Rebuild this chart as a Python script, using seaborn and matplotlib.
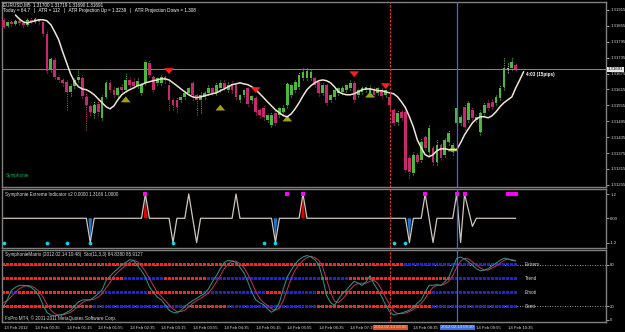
import numpy as np
import pandas as pd
import matplotlib
matplotlib.use("Agg")
import matplotlib.pyplot as plt
from matplotlib.patches import Polygon
import seaborn as sns

sns.set_style("dark")
plt.rcParams['font.family'] = ['Liberation Sans', 'DejaVu Sans']

# ---------------- data (EURUSD M5, 131 candles) ----------------
opens = [1.31878, 1.31855, 1.31870, 1.31863, 1.31874, 1.31866, 1.31859, 1.31878, 1.31870, 1.31881,
         1.31870, 1.31825, 1.31689, 1.31727, 1.31663, 1.31651, 1.31644, 1.31606, 1.31629, 1.31651,
         1.31659, 1.31587, 1.31553, 1.31527, 1.31561, 1.31508, 1.31587, 1.31640, 1.31614, 1.31595,
         1.31625, 1.31614, 1.31651, 1.31644, 1.31629, 1.31602, 1.31640, 1.31716, 1.31663, 1.31640,
         1.31640, 1.31663, 1.31633, 1.31576, 1.31576, 1.31576, 1.31587, 1.31602, 1.31640, 1.31595,
         1.31576, 1.31587, 1.31602, 1.31621, 1.31602, 1.31621, 1.31640, 1.31614, 1.31636, 1.31633,
         1.31576, 1.31595, 1.31621, 1.31576, 1.31584, 1.31538, 1.31546, 1.31501, 1.31482, 1.31527,
         1.31519, 1.31531, 1.31557, 1.31595, 1.31614, 1.31625, 1.31659, 1.31659, 1.31659, 1.31659,
         1.31644, 1.31602, 1.31633, 1.31576, 1.31587, 1.31602, 1.31606, 1.31614, 1.31621, 1.31640,
         1.31595, 1.31606, 1.31614, 1.31595, 1.31614, 1.31602, 1.31614, 1.31595, 1.31587, 1.31538,
         1.31493, 1.31531, 1.31531, 1.31357, 1.31301, 1.31369, 1.31350, 1.31437, 1.31380, 1.31395,
         1.31342, 1.31406, 1.31369, 1.31418, 1.31380, 1.31489, 1.31489, 1.31550, 1.31501, 1.31538,
         1.31501, 1.31455, 1.31527, 1.31565, 1.31568, 1.31565, 1.31584, 1.31625, 1.31693, 1.31697,
         1.31708]
closes = [1.31851, 1.31870, 1.31863, 1.31874, 1.31866, 1.31859, 1.31878, 1.31870, 1.31881, 1.31870,
          1.31825, 1.31685, 1.31731, 1.31663, 1.31651, 1.31640, 1.31606, 1.31629, 1.31651, 1.31663,
          1.31591, 1.31557, 1.31531, 1.31557, 1.31531, 1.31587, 1.31640, 1.31614, 1.31595, 1.31621,
          1.31614, 1.31651, 1.31633, 1.31629, 1.31648, 1.31633, 1.31719, 1.31670, 1.31614, 1.31659,
          1.31663, 1.31651, 1.31576, 1.31557, 1.31550, 1.31587, 1.31602, 1.31621, 1.31595, 1.31576,
          1.31595, 1.31602, 1.31621, 1.31602, 1.31633, 1.31640, 1.31621, 1.31633, 1.31614, 1.31587,
          1.31595, 1.31614, 1.31561, 1.31591, 1.31531, 1.31519, 1.31512, 1.31519, 1.31519, 1.31489,
          1.31546, 1.31546, 1.31636, 1.31633, 1.31644, 1.31670, 1.31682, 1.31685, 1.31682, 1.31633,
          1.31602, 1.31633, 1.31565, 1.31595, 1.31614, 1.31621, 1.31621, 1.31633, 1.31640, 1.31576,
          1.31614, 1.31621, 1.31625, 1.31621, 1.31595, 1.31621, 1.31591, 1.31614, 1.31557, 1.31489,
          1.31527, 1.31508, 1.31312, 1.31305, 1.31369, 1.31342, 1.31418, 1.31395, 1.31470, 1.31342,
          1.31406, 1.31357, 1.31425, 1.31452, 1.31406, 1.31546, 1.31512, 1.31474, 1.31565, 1.31508,
          1.31512, 1.31527, 1.31557, 1.31546, 1.31550, 1.31587, 1.31621, 1.31697, 1.31693, 1.31719,
          1.31691]
highs = [1.31885, 1.31878, 1.31881, 1.31881, 1.31881, 1.31874, 1.31885, 1.31889, 1.31889, 1.31885,
         1.31878, 1.31840, 1.31738, 1.31734, 1.31670, 1.31659, 1.31651, 1.31636, 1.31659, 1.31689,
         1.31670, 1.31606, 1.31561, 1.31576, 1.31576, 1.31595, 1.31651, 1.31651, 1.31625, 1.31629,
         1.31636, 1.31682, 1.31666, 1.31659, 1.31659, 1.31644, 1.31727, 1.31727, 1.31670, 1.31666,
         1.31670, 1.31670, 1.31651, 1.31584, 1.31587, 1.31595, 1.31610, 1.31629, 1.31651, 1.31602,
         1.31606, 1.31610, 1.31633, 1.31629, 1.31644, 1.31651, 1.31651, 1.31644, 1.31651, 1.31644,
         1.31602, 1.31621, 1.31629, 1.31599, 1.31591, 1.31546, 1.31553, 1.31527, 1.31531, 1.31538,
         1.31553, 1.31557, 1.31644, 1.31640, 1.31651, 1.31682, 1.31697, 1.31697, 1.31693, 1.31666,
         1.31651, 1.31640, 1.31640, 1.31602, 1.31621, 1.31629, 1.31629, 1.31640, 1.31651, 1.31651,
         1.31621, 1.31629, 1.31633, 1.31633, 1.31625, 1.31629, 1.31621, 1.31621, 1.31602, 1.31546,
         1.31538, 1.31538, 1.31538, 1.31369, 1.31380, 1.31380, 1.31433, 1.31444, 1.31482, 1.31406,
         1.31425, 1.31414, 1.31437, 1.31463, 1.31414, 1.31557, 1.31519, 1.31561, 1.31576, 1.31550,
         1.31519, 1.31538, 1.31568, 1.31576, 1.31580, 1.31595, 1.31633, 1.31738, 1.31716, 1.31738,
         1.31716]
lows = [1.31847, 1.31851, 1.31855, 1.31859, 1.31859, 1.31851, 1.31855, 1.31866, 1.31866, 1.31863,
        1.31817, 1.31678, 1.31682, 1.31655, 1.31644, 1.31629, 1.31538, 1.31591, 1.31621, 1.31644,
        1.31584, 1.31463, 1.31519, 1.31508, 1.31516, 1.31501, 1.31584, 1.31606, 1.31587, 1.31587,
        1.31606, 1.31606, 1.31625, 1.31621, 1.31621, 1.31595, 1.31633, 1.31663, 1.31606, 1.31633,
        1.31633, 1.31640, 1.31538, 1.31538, 1.31531, 1.31568, 1.31580, 1.31595, 1.31576, 1.31519,
        1.31527, 1.31580, 1.31595, 1.31595, 1.31595, 1.31606, 1.31614, 1.31606, 1.31602, 1.31580,
        1.31568, 1.31587, 1.31553, 1.31565, 1.31519, 1.31508, 1.31501, 1.31493, 1.31474, 1.31482,
        1.31512, 1.31519, 1.31546, 1.31587, 1.31606, 1.31617, 1.31651, 1.31651, 1.31651, 1.31625,
        1.31591, 1.31595, 1.31557, 1.31568, 1.31580, 1.31595, 1.31599, 1.31606, 1.31614, 1.31568,
        1.31587, 1.31599, 1.31606, 1.31587, 1.31587, 1.31595, 1.31584, 1.31587, 1.31538, 1.31482,
        1.31482, 1.31501, 1.31305, 1.31282, 1.31293, 1.31338, 1.31342, 1.31388, 1.31369, 1.31331,
        1.31331, 1.31350, 1.31361, 1.31406, 1.31369, 1.31482, 1.31482, 1.31463, 1.31493, 1.31501,
        1.31493, 1.31444, 1.31519, 1.31538, 1.31542, 1.31557, 1.31576, 1.31614, 1.31678, 1.31689,
        1.31685]

ma_start = 3
ma_line = [1.31896, 1.31881, 1.31870, 1.31866, 1.31870, 1.31874, 1.31878, 1.31878, 1.31874, 1.31859,
           1.31832, 1.31802, 1.31757, 1.31716, 1.31674, 1.31644, 1.31625, 1.31617, 1.31614, 1.31606,
           1.31595, 1.31580, 1.31565, 1.31550, 1.31542, 1.31553, 1.31576, 1.31595, 1.31606, 1.31614,
           1.31621, 1.31629, 1.31633, 1.31640, 1.31644, 1.31648, 1.31651, 1.31655, 1.31655, 1.31651,
           1.31640, 1.31629, 1.31617, 1.31606, 1.31595, 1.31587, 1.31584, 1.31587, 1.31591, 1.31595,
           1.31599, 1.31602, 1.31610, 1.31617, 1.31625, 1.31633, 1.31636, 1.31640, 1.31636, 1.31633,
           1.31625, 1.31614, 1.31599, 1.31584, 1.31568, 1.31553, 1.31538, 1.31527, 1.31516, 1.31512,
           1.31523, 1.31542, 1.31565, 1.31591, 1.31614, 1.31629, 1.31640, 1.31648, 1.31651, 1.31648,
           1.31640, 1.31625, 1.31606, 1.31599, 1.31595, 1.31595, 1.31599, 1.31606, 1.31614, 1.31617,
           1.31617, 1.31614, 1.31610, 1.31610, 1.31606, 1.31602, 1.31599, 1.31587, 1.31568, 1.31546,
           1.31512, 1.31474, 1.31425, 1.31395, 1.31369, 1.31361, 1.31369, 1.31384, 1.31391, 1.31391,
           1.31388, 1.31388, 1.31388, 1.31414, 1.31444, 1.31467, 1.31489, 1.31504, 1.31512, 1.31512,
           1.31508, 1.31516, 1.31531, 1.31550, 1.31565, 1.31576, 1.31587, 1.31621, 1.31651, 1.31682]

sell_idx = [42, 64, 89, 97]
sell_tail = [1.31700, 1.31633, 1.31689, 1.31648]
sell_tip = [1.31663, 1.31591, 1.31651, 1.31606]
buy_idx = [31, 55, 72, 93, 114]
buy_tail = [1.31561, 1.31531, 1.31493, 1.31584, 1.31380]
buy_tip = [1.31599, 1.31568, 1.31527, 1.31617, 1.31414]

price_ticks = [1.31915, 1.31855, 1.31795, 1.31735, 1.31675, 1.31615,
               1.31555, 1.31495, 1.31435, 1.31375, 1.31315, 1.31255]
bid_price = 1.31691

# Symphonie Extreme indicator: spikes (index, value); all other candles 0
spike_idx = [22, 36, 43, 47, 49, 59, 69, 76, 103, 107, 109, 115, 116, 117, 118, 119]
spike_val = [-1.2, 1.2, -1.2, 1.2, -1.2, 1.2, -1.2, 1.2, -1.2, 1.2, -1.2, 1.2, -1.2, 1.2, 0.4, -0.4]
red_fill_idx = [36, 76]
blue_fill_idx = [22, 69, 103]
cyan_dot_idx = [0, 11, 16, 22, 43, 66, 69, 99, 102]
magenta_dot_idx = [36, 72, 76, 107, 115, 117, 128, 129, 130]

# SymphonieMatrix stochastic
sto_main = [19, 30, 43, 47, 50, 50, 49, 47, 42, 35, 22, 11, 7, 6, 7, 8, 11, 14, 20, 26,
            29, 29, 29, 33, 38, 43, 57, 63, 69, 74, 79, 83, 87, 86, 78, 71, 62, 48, 40, 33,
            29, 22, 14, 11, 10, 14, 19, 24, 28, 31, 35, 38, 45, 55, 64, 74, 83, 86, 85, 83,
            76, 68, 55, 40, 29, 25, 22, 16, 11, 15, 25, 45, 62, 72, 81, 87, 91, 93, 91, 87,
            80, 60, 35, 25, 21, 30, 38, 43, 50, 56, 53, 50, 55, 64, 52, 43, 33, 21, 12, 7,
            9, 10, 12, 14, 18, 24, 29, 40, 50, 50, 51, 50, 55, 62, 75, 89, 91, 88, 84, 79,
            74, 71, 72, 74, 78, 82, 86, 89, 88, 86, 85]
sto_signal = [25, 28, 34, 40, 45, 48, 50, 49, 46, 41, 33, 23, 14, 9, 7, 7, 9, 11, 15, 20,
              25, 28, 29, 30, 33, 38, 46, 54, 63, 69, 74, 79, 83, 86, 84, 78, 70, 60, 50, 40,
              34, 28, 22, 16, 12, 12, 14, 19, 24, 28, 31, 35, 39, 46, 55, 64, 74, 81, 85, 85,
              81, 76, 66, 54, 41, 31, 25, 21, 16, 14, 17, 28, 44, 60, 72, 80, 86, 90, 92, 90,
              86, 76, 58, 40, 27, 25, 30, 37, 44, 50, 53, 53, 53, 56, 57, 53, 43, 32, 22, 13,
              9, 9, 10, 12, 15, 19, 24, 31, 40, 47, 50, 50, 52, 56, 64, 76, 85, 89, 88, 84,
              79, 75, 72, 72, 75, 78, 82, 86, 88, 87, 86]

row_names = ["Extrem", "Trend", "Emoti", "Senti"]
row_levels = [80, 60, 40, 20]
row_runs = {
    "Extrem": [("r", 102), ("b", 29)],
    "Trend": [("r", 31), ("b", 10), ("r", 11), ("b", 29), ("r", 2), ("b", 5), ("r", 26), ("b", 17)],
    "Emoti": [("r", 2), ("b", 2), ("r", 20), ("b", 13), ("r", 14), ("b", 16), ("r", 4), ("b", 9), ("r", 29), ("b", 22)],
    "Senti": [("r", 23), ("b", 25), ("r", 9), ("b", 23), ("r", 29), ("b", 22)],
}

xtick_idx = [0, 8, 16, 24, 32, 40, 48, 56, 64, 72, 80, 88, 104, 120, 128]
xtick_lab = ["13 Feb 2012", "14 Feb 00:35", "14 Feb 01:15", "14 Feb 01:55", "14 Feb 02:35",
             "14 Feb 03:15", "14 Feb 03:55", "14 Feb 04:35", "14 Feb 05:15", "14 Feb 05:55",
             "14 Feb 06:35", "14 Feb 07:15", "14 Feb 08:35", "14 Feb 09:55", "14 Feb 10:35"]
red_vline_idx, red_vline_lab = 98.2, "2012.02.14 08:05"
blue_vline_idx, blue_vline_lab = 115.2, "2012.02.14 09:30"

# ---------------- figure ----------------
BG = '#000000'
GRID = '#808080'
TXT = '#dcdcdc'
FS = 3.3     # panel texts
FT = 3.05    # tick labels
UP, DN, DOJI = '#4cb83c', '#c8286e', '#c8c8c8'

fig = plt.figure(figsize=(6.25, 3.32), dpi=100, facecolor=BG)
L, W = 2 / 625, 604 / 625
ax1 = fig.add_axes([L, 1 - 187 / 332, W, 185 / 332])
ax2 = fig.add_axes([L, 1 - 248 / 332, W, 59 / 332])
ax3 = fig.add_axes([L, 1 - 322 / 332, W, 72 / 332])
XL = (-0.4, 152.9)
for ax in (ax1, ax2, ax3):
    ax.set_facecolor(BG)
    ax.set_xlim(*XL)
    for s in ax.spines.values():
        s.set_color(GRID)
        s.set_linewidth(1.0)
    ax.yaxis.tick_right()
    ax.tick_params(axis='y', labelsize=FT, colors=TXT, length=2, width=0.5, pad=1)
    ax.grid(False)
    ax.axvline(red_vline_idx, color='#d23232', lw=0.9, ls=(0, (2, 1)), zorder=6)
    ax.axvline(blue_vline_idx, color='#3c64ff', lw=0.9, zorder=6)
for ax in (ax1, ax2):
    ax.set_xticks([])

# ---- price panel ----
idx = np.arange(len(closes))
df = pd.DataFrame({'i': idx, 'o': opens, 'h': highs, 'l': lows, 'c': closes})
colors = [UP if c > o else (DN if c < o else DOJI) for o, c in zip(df.o, df.c)]
ax1.axhline(bid_price, color='#a0a0a0', lw=0.6, zorder=1)
ax1.vlines(df.i, df.l, df.h, colors=colors, lw=0.8, linestyles=(0, (1, 1)), zorder=3)
body_bot = np.minimum(df.o, df.c)
body_h = np.maximum(np.abs(df.c - df.o), 0.00003)
ax1.bar(df.i, body_h, bottom=body_bot, width=0.7, color=colors, lw=0, zorder=4)

ma_df = pd.DataFrame({'i': np.arange(ma_start, ma_start + len(ma_line)), 'ma': ma_line})
sns.lineplot(data=ma_df, x='i', y='ma', ax=ax1, color='#efe6d6', lw=1.1, zorder=5)

ARW = 'simple,head_length=0.6,head_width=1.0,tail_width=0.4'
for i0, t0, t1 in zip(buy_idx, buy_tail, buy_tip):
    ax1.annotate('', xy=(i0, t1), xytext=(i0, t0),
                 arrowprops=dict(arrowstyle=ARW, color='#a0a014', lw=0, mutation_scale=7), zorder=2)
for i0, t0, t1 in zip(sell_idx, sell_tail, sell_tip):
    ax1.annotate('', xy=(i0, t1), xytext=(i0, t0),
                 arrowprops=dict(arrowstyle=ARW, color='#ff1e1e', lw=0, mutation_scale=7), zorder=7)

ax1.set_ylim(1.31247, 1.31945)
ax1.set_yticks(price_ticks)
ax1.set_yticklabels([f"{p:.5f}" for p in price_ticks])
ax1.set_ylabel(''); ax1.set_xlabel('')
ax1.text(1.003, bid_price, f"{bid_price:.5f}", transform=ax1.get_yaxis_transform(),
         fontsize=FT, color='black', va='center', ha='left',
         bbox=dict(boxstyle='square,pad=0.15', fc='#e6e6e6', ec='none'), clip_on=False, zorder=10)
ax1.text(132.5, 1.31670, "4:03 (15pips)", fontsize=FS, color='white', fontweight='bold', va='center')
ax1.text(0.5, 1.31290, "Symphonie", fontsize=FS, color='#00b45a', va='center')

# ---- indicator panel ----
ind = np.zeros(len(closes))
ind[spike_idx] = spike_val
ind_df = pd.DataFrame({'i': idx, 'v': ind})
for k in red_fill_idx:
    ax2.add_patch(Polygon([(k - 0.45, 0), (k, ind[k]), (k + 0.45, 0)], closed=True,
                          fc='#e60000', ec='none', zorder=3))
for k in blue_fill_idx:
    ax2.add_patch(Polygon([(k - 0.45, 0), (k, ind[k]), (k + 0.45, 0)], closed=True,
                          fc='#1e78d2', ec='none', zorder=3))
sns.lineplot(data=ind_df, x='i', y='v', ax=ax2, color='#cfc6bc', lw=0.9, zorder=4)
sns.scatterplot(x=cyan_dot_idx, y=[-1.2] * len(cyan_dot_idx), ax=ax2, color='#00dcf0',
                s=7, marker='o', linewidth=0, zorder=5)
sns.scatterplot(x=magenta_dot_idx, y=[1.2] * len(magenta_dot_idx), ax=ax2, color='#ff00ff',
                s=7, marker='s', linewidth=0, zorder=5)
ax2.set_ylim(-1.47, 1.45)
ax2.set_yticks([1.2, 0.0, -1.2])
ax2.set_yticklabels(['1.2', '0.00', '-1.2'])
ax2.set_ylabel(''); ax2.set_xlabel('')
ax2.text(0.3, 1.2, "Symphonie Extreme Indicator v2 0.0000 1.3166 1.0000", fontsize=FS,
         color=TXT, va='center')

# ---- stochastic matrix panel ----
for lev in (80, 20):
    ax3.axhline(lev, color='#c8c8c8', lw=0.6, ls=(0, (1, 2)), zorder=1)
cmap = {'r': '#ff2020', 'b': '#2222d8'}
for name, lev in zip(row_names, row_levels):
    cols = np.concatenate([[cmap[c]] * n for c, n in row_runs[name]])
    ax3.scatter(idx, [lev] * len(idx), c=list(cols), s=4.5, marker='s', linewidths=0, zorder=2)
    ax3.text(132.3, lev, name, fontsize=FS, color=TXT, va='center')
sto_df = pd.DataFrame({'i': idx, 'main': sto_main, 'signal': sto_signal})
sns.lineplot(data=sto_df, x='i', y='signal', ax=ax3, color='#c8325a', lw=0.7, zorder=3)
sns.lineplot(data=sto_df, x='i', y='main', ax=ax3, color='#2a9c8c', lw=0.7, zorder=4)
ax3.set_ylim(-3, 101)
ax3.set_yticks([80, 20, 0])
ax3.set_yticklabels(['80', '20', '0'])
ax3.set_ylabel(''); ax3.set_xlabel('')
ax3.text(0.3, 95, "SymphonieMatrix (2012.02.14 10:48)  Sto(11,3,3) 84.8380 85.9127",
         fontsize=FS, color=TXT, va='center')
ax3.text(0.3, 2, "FxPro MT4, \u00a9 2001-2011 MetaQuotes Software Corp.", fontsize=FS,
         color=TXT, va='center')
ax3.set_xticks(xtick_idx)
ax3.set_xticklabels(xtick_lab, ha='left')
ax3.tick_params(axis='x', labelsize=FT, colors=TXT, length=2, width=0.5, pad=1)
xt = ax3.get_xaxis_transform()
ax3.text(red_vline_idx, -0.075, red_vline_lab, transform=xt, fontsize=FT, color='#f0c8b4',
         ha='center', va='center', bbox=dict(boxstyle='square,pad=0.2', fc='#e0501e', ec='none'),
         zorder=10, clip_on=False)
ax3.text(blue_vline_idx, -0.075, blue_vline_lab, transform=xt, fontsize=FT, color='#dce6ff',
         ha='center', va='center', bbox=dict(boxstyle='square,pad=0.2', fc='#3c6ee6', ec='none'),
         zorder=10, clip_on=False)

fig.text(3 / 625, 1 - 5 / 332, "EURUSD,M5  1.31700 1.31719 1.31690 1.31691", fontsize=FS,
         color='white', va='center')
fig.text(3 / 625, 1 - 10.5 / 332,
         "Today = 64.7   |   ATR = 112   |   ATR Projection Up = 1.3239   |   ATR Projection Down = 1.308",
         fontsize=FS, color='white', va='center')

fig.savefig('out.png', dpi=100, facecolor=BG)
